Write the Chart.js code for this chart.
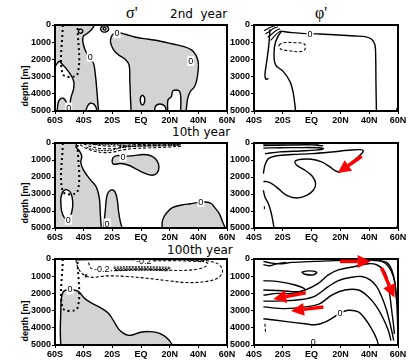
<!DOCTYPE html>
<html><head><meta charset="utf-8">
<script src="https://cdn.jsdelivr.net/npm/chart.js@4.4.1/dist/chart.umd.min.js"></script>
<style>
html,body{margin:0;padding:0;background:#fff;}
body{width:412px;height:364px;position:relative;overflow:hidden;}
canvas{position:absolute;}
.t{position:absolute;font-family:"DejaVu Sans",sans-serif;font-size:12px;line-height:14px;color:#000;white-space:pre;}
.g{position:absolute;font-family:"Liberation Serif",serif;font-size:16px;line-height:16px;color:#000;white-space:pre;}
.d{position:absolute;width:60px;height:10px;font-family:"Liberation Sans",sans-serif;font-weight:bold;font-size:9px;line-height:10px;text-align:center;transform:rotate(-90deg);color:#000;white-space:pre;}
</style></head><body>
<div class="g" style="left:126px;top:5px">σ'</div>
<div class="t" style="left:170px;top:7px">2nd  year</div>
<div class="g" style="left:315px;top:5px">φ'</div>
<div class="t" style="left:172px;top:125px">10th year</div>
<div class="t" style="left:167px;top:243px">100th year</div>
<div class="d" style="left:-5px;top:81px">depth [m]</div>
<div class="d" style="left:-5px;top:198px">depth [m]</div>
<div class="d" style="left:-5px;top:316px">depth [m]</div>
<canvas id="cA" width="237" height="109" style="left:0px;top:18px"></canvas>
<canvas id="cB" width="182" height="109" style="left:228px;top:18px"></canvas>
<canvas id="cC" width="237" height="108" style="left:0px;top:136px"></canvas>
<canvas id="cD" width="182" height="108" style="left:228px;top:136px"></canvas>
<canvas id="cE" width="237" height="109" style="left:0px;top:252px"></canvas>
<canvas id="cF" width="182" height="109" style="left:228px;top:252px"></canvas>
<script>
// ---------- axes ----------
const depthTicks = [0, 1000, 2000, 3000, 4000, 5000];
const depthTickLabels = ['0', '1000', '2000', '3000', '4000', '5000'];
const latTicksSigma = [-60, -40, -20, 0, 20, 40, 60];
const latTickLabelsSigma = ['60S', '40S', '20S', 'EQ', '20N', '40N', '60N'];
const latTicksPhi = [-40, -20, 0, 20, 40, 60];
const latTickLabelsPhi = ['40S', '20S', 'EQ', '20N', '40N', '60N'];

// ---------- common: forcing region (dotted box) ----------
const forcingBox = [[-54.6,0],[-54.6,2850],[-44.3,2850],[-44.3,0]];

// ---------- sigma' 2nd year [lat, depth] ----------
const sigma2GrayWest = [[-60,0],[-32.4,0],[-34.3,250],[-37.3,480],[-40.1,640],[-40.6,970],[-39.0,1450],[-36.6,1800],[-33.1,2230],[-31.7,3000],[-30.8,3780],[-30.1,4550],[-29.6,5000],[-60,5000]];
const sigma2WhiteSW = [[-60,2420],[-58.4,2230],[-57.0,2110],[-55.1,2270],[-52.3,2520],[-49.0,2900],[-46.9,3290],[-47.1,3740],[-48.6,4130],[-49.3,4450],[-49.0,5000],[-60,5000]];
const sigma2GraySWBlob = [[-58.4,5000],[-57.9,4550],[-56.5,4320],[-54.2,4260],[-52.3,4450],[-51.0,4710],[-50.4,5000]];
const sigma2WhiteArch = [[-38.5,5000],[-37.3,4710],[-35.4,4550],[-33.1,4590],[-31.4,4780],[-30.8,5000]];
const sigma2GrayEast = [[-6.9,5000],[-7.4,4160],[-7.8,3200],[-8.3,2320],[-10.9,2000],[-15.6,1740],[-19.1,1450],[-21.2,1030],[-20.7,680],[-18.6,480],[-15.6,450],[-10.9,540],[-5.0,680],[2.0,790],[9.0,870],[16.0,990],[23.0,1120],[30.0,1260],[35.2,1450],[38.2,1740],[39.9,2130],[39.9,2620],[38.9,3200],[37.1,3620],[34.5,3850],[32.5,4300],[31.5,5000]];
const sigma2WhiteBottom1 = [[9.5,5000],[10.2,4710],[13.2,4590],[16.5,4710],[17.7,5000]];
const sigma2WhiteBottom2 = [[18.6,5000],[18.8,4360],[21.2,4160],[22.3,3820],[26.5,3820],[27.7,4160],[27.7,5000]];
const sigma2WhiteEq = [[1.0,4070],[2.4,4200],[2.6,4400],[1.9,4600],[0.6,4640],[-0.4,4450],[-0.3,4200],[1.0,4070]];
const sigma2LoopA = [[-43.8,350],[-42.5,230],[-40.6,330],[-41.5,470],[-43.2,450],[-43.8,350]];
const sigma2LoopB = [[-28.4,220],[-27,60],[-24.5,30],[-22.6,200],[-24,390],[-27,380],[-28.4,220]];
const sigma2LoopC = [[-26.8,210],[-25.5,120],[-24.4,200],[-25.5,300],[-26.8,210]];
const sigma2Labels = [[-16.7,470,'0'],[-35.4,1840,'0'],[-50.4,4800,'0'],[34.7,2090,'0']];

// ---------- phi' 2nd year ----------
const phi2Zero = [[-11.1,5000],[-12.7,3970],[-15.0,3290],[-19.6,2710],[-25.0,2320],[-26.1,1650],[-25.0,970],[-21.2,390],[-18.5,390],[-13.8,445],[-6.9,484],[5.8,523],[18.6,581],[30.1,639],[37.1,678],[41.7,833],[44.0,1162],[44.5,1840],[44.7,3390],[45.0,5000]];
const phi2Hook = [[-28.9,250],[-29.6,1065],[-31.0,2030],[-32.4,2900],[-31.7,3160],[-30.0,3100]];
const phi2Fan1 = [[-25.5,40],[-28,110],[-30,200],[-33,330]];
const phi2Fan2 = [[-23.5,100],[-26,180],[-28.5,330],[-32,520]];
const phi2Fan3 = [[-22,220],[-24.5,320],[-27,480],[-30.5,720]];
const phi2Fan4 = [[-21,330],[-23,430],[-25,580],[-28.5,900]];
const phi2NegLoop = [[-22.6,1160],[-19.6,1030],[-11.5,1030],[-5.0,1100],[-4.6,1410],[-8.0,1550],[-16.2,1490],[-21.2,1410],[-22.6,1260],[-22.6,1160]];
const phi2Edge = [[59.1,4840],[59.4,5000]];
const phi2Labels = [[-1.1,500,'0']];

// ---------- sigma' 10th year ----------
const sigma10GrayWest = [[-60,0],[-44.8,0],[-45.3,230],[-42.9,470],[-41.3,780],[-42.0,1120],[-40.1,1600],[-35.4,2150],[-31.2,2590],[-29.0,3270],[-28.4,4150],[-27.7,5000],[-60,5000]];
const sigma10WhiteSW = [[-56.0,3270],[-54.6,2880],[-51.8,2740],[-49.0,2940],[-47.6,3470],[-48.3,4060],[-50.7,4510],[-53.5,4390],[-55.5,3960],[-56.0,3270]];
const sigma10GrayFinger = [[-26.1,5000],[-24.9,3960],[-23.7,3080],[-21.4,2780],[-18.6,2820],[-16.7,3270],[-15.6,4060],[-14.4,4640],[-13.2,5000]];
const sigma10GrayMid = [[-20.2,1120],[-19.5,860],[-16.7,740],[-10.9,780],[-5.0,740],[2.0,680],[7.8,780],[11.3,1060],[12.5,1410],[11.3,1760],[7.8,1900],[2.0,1760],[-3.9,1510],[-8.6,1310],[-14.4,1210],[-19.1,1250],[-20.2,1120]];
const sigma10GrayNE = [[14.8,5000],[14.8,4640],[16.0,4350],[18.4,4060],[21.9,3800],[27.7,3660],[34.7,3570],[39.4,3510],[45.2,3470],[49.0,3560],[51.1,3760],[54.6,4150],[57.0,4650],[58.8,5000]];
const sigma10Neg1 = [[-42.5,100],[-38,330],[-33,470],[-27,560],[-20,540],[-14,430],[-6,330],[5,290],[16,250],[28,190]];
const sigma10Neg2 = [[-40,60],[-35,200],[-28,330],[-20,330],[-12,250],[0,170],[15,130],[28,100]];
const sigma10Neg3 = [[-37,30],[-30,130],[-22,190],[-14,150],[-2,90],[12,60],[27,40]];
const sigma10Neg4 = [[-40,20],[-33,80],[-25,110],[-18,90],[-12,50]];
const sigma10Neg5 = [[-36,10],[-30,50],[-22,60],[-15,30]];
const sigma10Neg6 = [[-38,250],[-33,380],[-26,450],[-20,420],[-15,300],[-10,230]];
const sigma10Neg7 = [[-15,130],[0,120],[15,105],[27,85]];
const sigma10Neg8 = [[-15,210],[0,195],[15,170],[27,140]];
const sigma10Labels = [[-12.5,800,'0'],[-50.7,4510,'0'],[-23.7,4740,'0'],[41.7,3470,'0']];

// ---------- phi' 10th year ----------
const phi10Tongue = [[-33.5,1800],[-32.4,1310],[-30.0,920],[-24.3,760],[-13.8,680],[0,625],[13.9,527],[25.5,429],[33.6,390],[35.9,468],[33.6,723],[29.0,1056],[24.4,1409],[19.7,1703],[16.7,1644],[12.8,1409],[7.0,1115],[0,958],[-6.9,958],[-11.5,1076],[-10.3,1311],[-4.6,1605],[0.5,1958],[2.8,2389],[1.2,2781],[-3.4,3075],[-10.3,3232],[-17.3,3075],[-23.1,2683],[-27.7,2389],[-31.2,2272],[-33.5,2272]];
const phi10UpperLoop = [[-33.5,300],[-22,280],[-8,270],[5,280],[8.2,330],[3,420],[-8,470],[-22,520],[-32.4,625]];
const phi10Surface1 = [[-33.5,60],[-20,40],[-5,30],[5,60]];
const phi10Surface2 = [[-33.5,150],[-15,120],[0,110],[8,170]];
const phi10Deep = [[-33.5,2780],[-32.4,3170],[-30.0,3570],[-28.2,4060],[-27.0,4550],[-26.1,5000]];
const phi10DashW = [[-32.8,3720],[-32.8,3960]];
const phi10Edge = [[59.1,4900],[59.3,5000]];
const phi10Arrows = [[[34.8,780],[18.1,1760]]];

// ---------- sigma' 100th year ----------
const sigma100Gray = [[-56.0,5000],[-56.3,4160],[-56.0,3180],[-55.6,2300],[-54.2,1900],[-51.8,1800],[-48.3,1770],[-43.6,1900],[-39.0,2320],[-33.1,2620],[-27.3,2880],[-22.6,3170],[-19.1,3600],[-15.6,4080],[-12.1,4320],[-8.6,4440],[-5.0,4390],[-0.4,4260],[5.5,4220],[11.3,4280],[16.0,4450],[19.5,4710],[21.9,5000]];
const sigma100OuterNeg = [[-45.3,40],[-45.3,80],[-44.3,430],[-41.3,825],[-35.4,1060],[-23.7,980],[-9.7,1020],[4.3,1120],[18.4,1260],[32.4,1370],[44.1,1320],[53.4,1120],[56.9,730],[54.6,335],[48.8,140],[41.7,40]];
const sigma100InnerNeg = [[-36.6,200],[-35.0,530],[-28.4,670],[-16.7,670],[-0.4,590],[13.7,630],[27.7,670],[39.4,590],[45.2,430],[46.4,240],[41.7,120],[32.4,80]];
const sigma100Core1 = [[-19,470],[-5,450],[10,460],[21,480]];
const sigma100Core2 = [[-19,540],[-5,520],[10,530],[21,550]];
const sigma100Core3 = [[-18,610],[-5,590],[10,600],[20,620]];
const sigma100Core4 = [[-17,680],[-5,660],[10,665],[19,690]];
const sigma100Surface = [[-45,40],[-20,30],[10,30],[45,50]];
const sigma100Surface2 = [[5,110],[25,100],[44,160]];
const sigma100Eddy = [[-39,980],[-38.3,900],[-37.5,980],[-38.3,1060],[-39,980]];
const sigma100Labels = [[-49.5,1770,'0'],[-27.3,590,'-0.2'],[2.0,120,'-0.2']];

// ---------- phi' 100th year ----------
const phi100A = [[-33.5,2100],[-23.1,2000],[-13.8,2000],[-4.6,1805],[4.7,1413],[11.6,923],[18.6,629],[30.1,433],[39.4,276],[45.2,335],[49.8,629],[52.1,1021],[53.3,1609],[54.5,2197],[55.6,2981],[56.8,3765],[57.5,4353]];
const phi100B = [[-33.5,2452],[-20.8,2432],[-6.9,2354],[2.4,2158],[11.6,1609],[18.6,1256],[27.8,1060],[34.8,1021],[40.6,1217],[45.2,1609],[48.7,2197],[52.1,2981],[54.5,3765],[56.1,4353],[57.0,4745]];
const phi100C = [[-33.5,2785],[-18.5,2883],[-4.6,2785],[5.8,2589],[14.0,2099],[23.2,1805],[32.5,1805],[39.4,2197],[45.2,2785],[49.8,3471],[53.3,4157],[55.1,4745]];
const phi100Zero = [[-33.5,3471],[-18.5,3628],[-4.6,3765],[2.4,3824],[9.3,3667],[16.3,3334],[19.7,3138],[25.5,2981],[32.5,3079],[37.1,3471],[41.7,4059],[45.2,4647],[46.3,5000]];
const phi100East1 = [[41.7,80],[48.7,139],[53.3,433],[56.8,1021],[58.4,1805],[59.3,2785],[59.8,3961]];
const phi100East2 = [[46.3,80],[52.1,198],[55.6,629],[57.9,1413],[59.1,2393]];
const phi100WestLoop = [[-33.5,1256],[-23.1,1315],[-11.5,1511],[-4.6,1766],[-9.2,1903],[-20.8,1844],[-33.5,1805]];
const phi100SmallLoop = [[-6.9,766],[-2.3,688],[3.5,766],[1.2,923],[-4.6,884],[-6.9,766]];
const phi100Surface = [[-33.5,139],[-27.7,237],[-20.8,276],[-13.8,198],[2.4,139],[23.2,80],[41.7,80]];
const phi100Surface2 = [[-33.5,330],[-28.9,390],[-24.3,280],[-18,200]];
const phi100DashW = [[-32.4,3765],[-31.9,4353]];
const phi100Stub = [[1.2,4950],[1.2,5000]];
const phi100Labels = [[19.7,3138,'0'],[1.2,4843,'0']];
const phi100Arrows = [[[19.7,140],[41.0,140]],[[48.7,530],[57.5,2240]],[[-4.1,1960],[-26.6,2330]],[[8.2,2790],[-14.3,3020]]];

// ---------- rendering helpers ----------
const GRAY = '#d3d3d3';
const RED = '#ff0000';
const TICKFONT = {family: '"Liberation Sans", Arial, sans-serif', weight: 'bold', size: 9};
const STY = {
  gray:  {fill: 'shape', backgroundColor: GRAY, borderColor: '#000', borderWidth: 1.4, order: 5},
  white: {fill: 'shape', backgroundColor: '#fff', borderColor: '#000', borderWidth: 1.4, order: 4},
  gray2: {fill: 'shape', backgroundColor: GRAY, borderColor: '#000', borderWidth: 1.4, order: 3},
  line:  {fill: false, borderColor: '#000', borderWidth: 1.4, order: 2},
  thin:  {fill: false, borderColor: '#000', borderWidth: 1.1, order: 2},
  dash:  {fill: false, borderColor: '#000', borderWidth: 1.1, borderDash: [3, 2], order: 2},
  hatch: {fill: false, borderColor: '#000', borderWidth: 1, borderDash: [2, 1], order: 2},
  dot:   {fill: false, borderColor: '#000', borderWidth: 2, borderDash: [2, 3], order: 1}
};
function mk(points, kind, xr) {
  const pts = [];
  for (const [x, y] of points) {
    pts.push({x, y});
    if (x <= xr[0] || x >= xr[1] || y <= 0 || y >= 5000) pts.push({x, y});
  }
  return Object.assign({data: pts, showLine: true, pointRadius: 0, pointHoverRadius: 0, tension: 0.35}, STY[kind]);
}
const framePlugin = {
  id: 'frame',
  afterDraw(chart) {
    const {ctx, chartArea: a} = chart;
    ctx.save();
    ctx.strokeStyle = '#000'; ctx.lineWidth = 2;
    ctx.strokeRect(a.left, a.top, a.right - a.left, a.bottom - a.top);
    ctx.restore();
  }
};
function annot(texts, arrows) {
  return {
    id: 'annot',
    afterDatasetsDraw(chart) {
      const {ctx, chartArea: a} = chart;
      const sx = chart.scales.x, sy = chart.scales.y;
      ctx.save();
      ctx.beginPath(); ctx.rect(a.left, a.top, a.right - a.left, a.bottom - a.top); ctx.clip();
      ctx.font = '9px "Liberation Sans", Arial, sans-serif';
      ctx.textAlign = 'center'; ctx.textBaseline = 'middle';
      for (const [lx, dy, t] of texts) {
        const px = sx.getPixelForValue(lx), py = sy.getPixelForValue(dy);
        const w = ctx.measureText(t).width + 2;
        ctx.fillStyle = '#fff'; ctx.fillRect(px - w / 2, py - 5, w, 10);
        ctx.fillStyle = '#000'; ctx.fillText(t, px, py + 0.5);
      }
      ctx.restore();
    },
    afterDraw(chart) {
      const {ctx} = chart;
      const sx = chart.scales.x, sy = chart.scales.y;
      ctx.save();
      for (const [[x0, y0], [x1, y1]] of arrows) {
        const X0 = sx.getPixelForValue(x0), Y0 = sy.getPixelForValue(y0);
        const X1 = sx.getPixelForValue(x1), Y1 = sy.getPixelForValue(y1);
        const ang = Math.atan2(Y1 - Y0, X1 - X0), L = 13, W = 6.5;
        const bx = X1 - L * Math.cos(ang), by = Y1 - L * Math.sin(ang);
        ctx.strokeStyle = RED; ctx.lineWidth = 3.5; ctx.lineCap = 'butt';
        ctx.beginPath(); ctx.moveTo(X0, Y0); ctx.lineTo(bx, by); ctx.stroke();
        ctx.fillStyle = RED; ctx.beginPath();
        ctx.moveTo(X1, Y1);
        ctx.lineTo(bx - W * Math.sin(ang), by + W * Math.cos(ang));
        ctx.lineTo(bx + W * Math.sin(ang), by - W * Math.cos(ang));
        ctx.closePath(); ctx.fill();
      }
      ctx.restore();
    }
  };
}
function panel(id, xr, xVals, xLabs, padRight, yWidth, datasets, texts, arrows) {
  const gridOpt = {display: true, drawOnChartArea: false, drawTicks: true, tickLength: 3, color: '#000', lineWidth: 1};
  return new Chart(document.getElementById(id), {
    type: 'scatter',
    data: {datasets},
    options: {
      responsive: false, animation: false, events: [],
      layout: {padding: {top: 7, right: padRight, left: 0, bottom: 0}},
      plugins: {legend: {display: false}, tooltip: {enabled: false}},
      scales: {
        x: {type: 'linear', min: xr[0], max: xr[1],
            ticks: {stepSize: 20, autoSkip: false, maxRotation: 0, padding: 1, color: '#000', font: TICKFONT,
                    callback: v => { const i = xVals.indexOf(v); return i < 0 ? '' : xLabs[i]; }},
            grid: gridOpt, border: {display: false},
            afterFit: s => { s.height = 16; }},
        y: {type: 'linear', reverse: true, min: 0, max: 5000,
            ticks: {stepSize: 1000, autoSkip: false, padding: 1, color: '#000', font: TICKFONT,
                    callback: v => { const i = depthTicks.indexOf(v); return i < 0 ? '' : depthTickLabels[i]; }},
            grid: gridOpt, border: {display: false},
            afterFit: s => { s.width = yWidth; }}
      }
    },
    plugins: [framePlugin, annot(texts, arrows)]
  });
}

const XS = [-60, 60], XP = [-40, 60];

panel('cA', XS, latTicksSigma, latTickLabelsSigma, 10, 55, [
  mk(sigma2GrayWest, 'gray', XS), mk(sigma2GrayEast, 'gray', XS),
  mk(sigma2WhiteSW, 'white', XS), mk(sigma2WhiteArch, 'white', XS),
  mk(sigma2WhiteBottom1, 'white', XS), mk(sigma2WhiteBottom2, 'white', XS), mk(sigma2WhiteEq, 'white', XS),
  mk(sigma2GraySWBlob, 'gray2', XS),
  mk(sigma2LoopA, 'line', XS), mk(sigma2LoopB, 'line', XS), mk(sigma2LoopC, 'line', XS),
  mk(forcingBox, 'dot', XS)
], sigma2Labels, []);

panel('cB', XP, latTicksPhi, latTickLabelsPhi, 12, 26, [
  mk(phi2Zero, 'line', XP), mk(phi2Hook, 'line', XP),
  mk(phi2Fan1, 'thin', XP), mk(phi2Fan2, 'thin', XP), mk(phi2Fan3, 'thin', XP), mk(phi2Fan4, 'thin', XP),
  mk(phi2NegLoop, 'dash', XP), mk(phi2Edge, 'line', XP)
], phi2Labels, []);

panel('cC', XS, latTicksSigma, latTickLabelsSigma, 10, 55, [
  mk(sigma10GrayWest, 'gray', XS), mk(sigma10GrayFinger, 'gray', XS), mk(sigma10GrayMid, 'gray', XS), mk(sigma10GrayNE, 'gray', XS),
  mk(sigma10WhiteSW, 'white', XS),
  mk(sigma10Neg1, 'dash', XS), mk(sigma10Neg2, 'dash', XS), mk(sigma10Neg3, 'dash', XS),
  mk(sigma10Neg4, 'hatch', XS), mk(sigma10Neg5, 'hatch', XS), mk(sigma10Neg6, 'hatch', XS),
  mk(sigma10Neg7, 'hatch', XS), mk(sigma10Neg8, 'hatch', XS),
  mk(forcingBox, 'dot', XS)
], sigma10Labels, []);

panel('cD', XP, latTicksPhi, latTickLabelsPhi, 12, 26, [
  mk(phi10Tongue, 'line', XP), mk(phi10UpperLoop, 'line', XP), mk(phi10Surface1, 'line', XP), mk(phi10Surface2, 'line', XP),
  mk(phi10Deep, 'line', XP), mk(phi10DashW, 'dash', XP), mk(phi10Edge, 'line', XP)
], [], phi10Arrows);

panel('cE', XS, latTicksSigma, latTickLabelsSigma, 10, 55, [
  mk(sigma100Gray, 'gray', XS),
  mk(sigma100OuterNeg, 'dash', XS), mk(sigma100InnerNeg, 'dash', XS),
  mk(sigma100Core1, 'hatch', XS), mk(sigma100Core2, 'hatch', XS), mk(sigma100Core3, 'hatch', XS), mk(sigma100Core4, 'hatch', XS),
  mk(sigma100Surface, 'line', XS), mk(sigma100Surface2, 'dash', XS), mk(sigma100Eddy, 'dash', XS),
  mk(forcingBox, 'dot', XS)
], sigma100Labels, []);

panel('cF', XP, latTicksPhi, latTickLabelsPhi, 12, 26, [
  mk(phi100A, 'line', XP), mk(phi100B, 'line', XP), mk(phi100C, 'line', XP), mk(phi100Zero, 'line', XP),
  mk(phi100East1, 'line', XP), mk(phi100East2, 'line', XP), mk(phi100WestLoop, 'line', XP), mk(phi100SmallLoop, 'line', XP),
  mk(phi100Surface, 'line', XP), mk(phi100Surface2, 'line', XP), mk(phi100DashW, 'dash', XP), mk(phi100Stub, 'line', XP)
], phi100Labels, phi100Arrows);
</script>
</body></html>
